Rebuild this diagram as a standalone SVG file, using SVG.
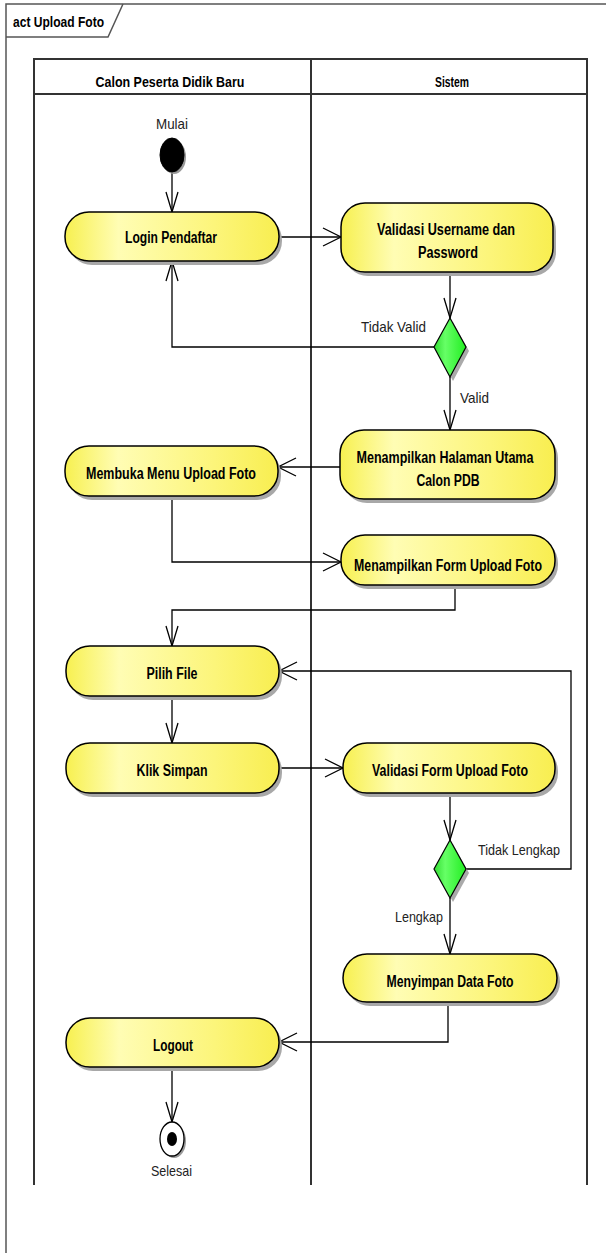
<svg xmlns="http://www.w3.org/2000/svg" width="606" height="1253" viewBox="0 0 606 1253">
<style>
.frame{fill:none;stroke:#555;stroke-width:1.5}
.lane{fill:none;stroke:#333;stroke-width:2}
.node{fill:url(#yg);stroke:#000;stroke-width:1.5}
.shadow{fill:#a8a8a8}
.dec{fill:url(#gg);stroke:#000;stroke-width:1.2}
.lbl{font-family:"Liberation Sans Narrow","Liberation Sans",Arial,sans-serif;font-weight:bold;font-size:16px;fill:#000;text-anchor:middle}
.txt{font-family:"Liberation Sans Narrow","Liberation Sans",Arial,sans-serif;font-size:15px;fill:#222}
.edge{fill:none;stroke:#000;stroke-width:1.3}
</style>
<defs>
<linearGradient id="yg" x1="0" y1="0" x2="1" y2="0">
<stop offset="0" stop-color="#F7F050"/>
<stop offset="0.25" stop-color="#FFFDB4"/>
<stop offset="0.7" stop-color="#FCF57A"/>
<stop offset="1" stop-color="#F8EE50"/>
</linearGradient>
<linearGradient id="gg" x1="0" y1="0" x2="1" y2="0">
<stop offset="0" stop-color="#33DD33"/>
<stop offset="0.35" stop-color="#66FF66"/>
<stop offset="1" stop-color="#22EE22"/>
</linearGradient>
<marker id="av" markerUnits="userSpaceOnUse" markerWidth="24" markerHeight="16" viewBox="0 -8 22 16" refX="20" refY="0" orient="auto" overflow="visible">
<path d="M0,-6 L20,0 L0,6" fill="none" stroke="#000" stroke-width="1.3"/>
</marker>
<marker id="ah" markerUnits="userSpaceOnUse" markerWidth="22" markerHeight="22" viewBox="0 -11 20 22" refX="18" refY="0" orient="auto" overflow="visible">
<path d="M0,-9 L18,0 L0,9" fill="none" stroke="#000" stroke-width="1.3"/>
</marker>
</defs>
<rect width="606" height="1253" fill="#fff"/>
<g id="frame">
<path class="frame" d="M6,1253 V4 H606"/>
<path class="frame" d="M6,37 H108 L123,4"/>
<text x="13" y="27" style="font-family:'Liberation Sans Narrow','Liberation Sans',Arial,sans-serif;font-weight:bold;font-size:15px" textLength="91" lengthAdjust="spacingAndGlyphs">act Upload Foto</text>
</g>
<g id="lanes">
<path class="lane" d="M34,1185 V59 H587 V1185"/>
<path class="lane" d="M34,94 H587"/>
<path class="lane" d="M311,59 V1185"/>
<text class="lbl" x="170" y="87" textLength="149" lengthAdjust="spacingAndGlyphs" style="font-size:15px">Calon Peserta Didik Baru</text>
<text class="lbl" x="452" y="87" textLength="34" lengthAdjust="spacingAndGlyphs" style="font-size:15px">Sistem</text>
</g>
<g id="connectors">
<path class="edge" d="M172,172 V212" marker-end="url(#av)"/>
<path class="edge" d="M279,237 H341" marker-end="url(#ah)"/>
<path class="edge" d="M450,272 V318" marker-end="url(#av)"/>
<path class="edge" d="M434,347 H172 V261" marker-end="url(#av)"/>
<path class="edge" d="M450,377 V430" marker-end="url(#av)"/>
<path class="edge" d="M340,467 H278" marker-end="url(#ah)"/>
<path class="edge" d="M172,496 V562 H341" marker-end="url(#ah)"/>
<path class="edge" d="M455,585 V610 H172 V646" marker-end="url(#av)"/>
<path class="edge" d="M172,696 V743" marker-end="url(#av)"/>
<path class="edge" d="M279,768 H343" marker-end="url(#ah)"/>
<path class="edge" d="M450,793 V840" marker-end="url(#av)"/>
<path class="edge" d="M466,869 H571 V671 H279" marker-end="url(#ah)"/>
<path class="edge" d="M450,898 V954" marker-end="url(#av)"/>
<path class="edge" d="M448,1002 V1042 H279" marker-end="url(#ah)"/>
<path class="edge" d="M172,1067 V1122" marker-end="url(#av)"/>
<text class="txt" x="361" y="332" textLength="65" lengthAdjust="spacingAndGlyphs">Tidak Valid</text>
<text class="txt" x="460" y="403" textLength="29" lengthAdjust="spacingAndGlyphs">Valid</text>
<text class="txt" x="478" y="855" textLength="82" lengthAdjust="spacingAndGlyphs">Tidak Lengkap</text>
<text class="txt" x="395" y="922" textLength="48" lengthAdjust="spacingAndGlyphs">Lengkap</text>
</g>
<g id="start">
<ellipse cx="174" cy="157" rx="12" ry="17" fill="#999"/>
<ellipse cx="172" cy="155" rx="12" ry="17" fill="#000" stroke="#000"/>
<text class="txt" x="156" y="129" textLength="32" lengthAdjust="spacingAndGlyphs">Mulai</text>
</g>
<g id="login">
<rect class="shadow" x="68" y="216" width="214" height="49" rx="24" ry="24"/>
<rect class="node" x="65" y="212" width="214" height="49" rx="24" ry="24"/>
<text class="lbl" x="171" y="243" textLength="92" lengthAdjust="spacingAndGlyphs">Login Pendaftar</text>
</g>
<g id="validasi-user">
<rect class="shadow" x="344" y="207" width="212" height="69" rx="24" ry="24"/>
<rect class="node" x="341" y="203" width="212" height="69" rx="24" ry="24"/>
<text class="lbl" x="446" y="235" textLength="138" lengthAdjust="spacingAndGlyphs">Validasi Username dan</text>
<text class="lbl" x="448" y="258" textLength="60" lengthAdjust="spacingAndGlyphs">Password</text>
</g>
<g id="decision1">
<polygon points="453,322 469,351 453,381 437,351" fill="#aaa"/>
<polygon class="dec" points="450,318 466,347 450,377 434,347"/>
</g>
<g id="halaman-utama">
<rect class="shadow" x="343" y="434" width="215" height="69" rx="24" ry="24"/>
<rect class="node" x="340" y="430" width="215" height="69" rx="24" ry="24"/>
<text class="lbl" x="445" y="463" textLength="177" lengthAdjust="spacingAndGlyphs">Menampilkan Halaman Utama</text>
<text class="lbl" x="448" y="486" textLength="63" lengthAdjust="spacingAndGlyphs">Calon PDB</text>
</g>
<g id="membuka-menu">
<rect class="shadow" x="68" y="450" width="213" height="50" rx="24" ry="24"/>
<rect class="node" x="65" y="446" width="213" height="50" rx="24" ry="24"/>
<text class="lbl" x="171" y="479" textLength="170" lengthAdjust="spacingAndGlyphs">Membuka Menu Upload Foto</text>
</g>
<g id="form-upload">
<rect class="shadow" x="344" y="539" width="214" height="50" rx="24" ry="24"/>
<rect class="node" x="341" y="535" width="214" height="50" rx="24" ry="24"/>
<text class="lbl" x="448" y="571" textLength="188" lengthAdjust="spacingAndGlyphs">Menampilkan Form Upload Foto</text>
</g>
<g id="pilih-file">
<rect class="shadow" x="69" y="650" width="213" height="50" rx="24" ry="24"/>
<rect class="node" x="66" y="646" width="213" height="50" rx="24" ry="24"/>
<text class="lbl" x="172" y="679" textLength="51" lengthAdjust="spacingAndGlyphs">Pilih File</text>
</g>
<g id="klik-simpan">
<rect class="shadow" x="69" y="747" width="213" height="50" rx="24" ry="24"/>
<rect class="node" x="66" y="743" width="213" height="50" rx="24" ry="24"/>
<text class="lbl" x="172" y="776" textLength="71" lengthAdjust="spacingAndGlyphs">Klik Simpan</text>
</g>
<g id="validasi-form">
<rect class="shadow" x="346" y="747" width="212" height="50" rx="24" ry="24"/>
<rect class="node" x="343" y="743" width="212" height="50" rx="24" ry="24"/>
<text class="lbl" x="450" y="776" textLength="156" lengthAdjust="spacingAndGlyphs">Validasi Form Upload Foto</text>
</g>
<g id="decision2">
<polygon points="453,844 469,873 453,902 437,873" fill="#aaa"/>
<polygon class="dec" points="450,840 466,869 450,898 434,869"/>
</g>
<g id="menyimpan">
<rect class="shadow" x="346" y="958" width="214" height="48" rx="24" ry="24"/>
<rect class="node" x="343" y="954" width="214" height="48" rx="24" ry="24"/>
<text class="lbl" x="450" y="987" textLength="127" lengthAdjust="spacingAndGlyphs">Menyimpan Data Foto</text>
</g>
<g id="logout">
<rect class="shadow" x="69" y="1022" width="213" height="49" rx="24" ry="24"/>
<rect class="node" x="66" y="1018" width="213" height="49" rx="24" ry="24"/>
<text class="lbl" x="173" y="1051" textLength="40" lengthAdjust="spacingAndGlyphs">Logout</text>
</g>
<g id="end">
<ellipse cx="174" cy="1141" rx="12" ry="17" fill="#999"/>
<ellipse cx="172" cy="1139" rx="12" ry="17" fill="#fff" stroke="#000" stroke-width="1.3"/>
<ellipse cx="172" cy="1139" rx="5" ry="7" fill="#000"/>
<text class="txt" x="151" y="1176" textLength="41" lengthAdjust="spacingAndGlyphs">Selesai</text>
</g>
</svg>
